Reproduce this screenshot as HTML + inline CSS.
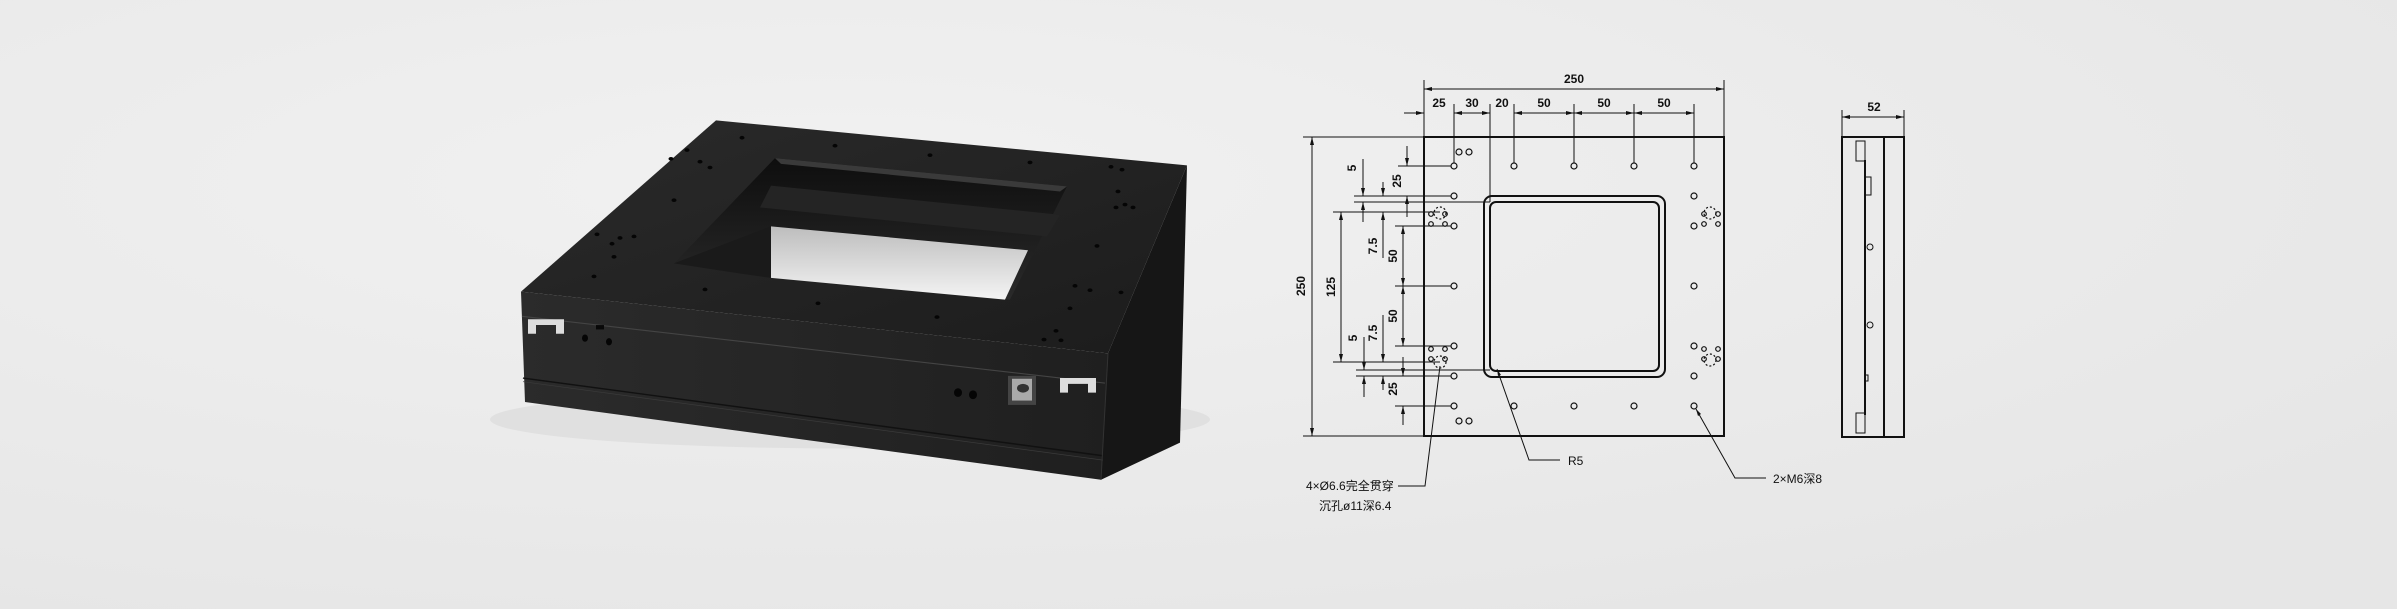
<!DOCTYPE html>
<html><head><meta charset="utf-8"><style>
html,body{margin:0;padding:0;background:#e9e9e9;}
svg{display:block}
text{font-family:"Liberation Sans","Noto Sans CJK SC",sans-serif;fill:#111}
</style></head><body>
<svg width="2397" height="609" viewBox="0 0 2397 609" xmlns="http://www.w3.org/2000/svg">
<defs>
<radialGradient id="bg" cx="0.35" cy="0.3" r="0.8"><stop offset="0" stop-color="#f1f1f1"/><stop offset="1" stop-color="#e6e6e6"/></radialGradient>
<linearGradient id="top" x1="0" y1="0" x2="1" y2="1"><stop offset="0" stop-color="#2a2a2a"/><stop offset="1" stop-color="#1c1c1c"/></linearGradient>
<linearGradient id="front" x1="0" y1="0" x2="1" y2="0"><stop offset="0" stop-color="#2b2b2b"/><stop offset="1" stop-color="#1f1f1f"/></linearGradient>
<linearGradient id="floor" x1="0" y1="0" x2="0" y2="1"><stop offset="0" stop-color="#bdbdbd"/><stop offset="1" stop-color="#f4f4f4"/></linearGradient>
<linearGradient id="well" x1="0" y1="0" x2="0" y2="1"><stop offset="0" stop-color="#0e0e0e"/><stop offset="1" stop-color="#2a2a2a"/></linearGradient>
</defs>
<rect width="2397" height="609" fill="url(#bg)"/>
<g transform="translate(0,100) scale(1,0.726) translate(0,-100)">
<ellipse cx="850" cy="540" rx="360" ry="40" fill="#d8d8d8" opacity="0.6"/>
<polygon points="1187,190 1180,572 1101,623 1108,449" fill="#161616"/>
<polygon points="521,364 1108,449 1101,623 525,516" fill="url(#front)"/>
<polygon points="716,128 1187,190 1108,449 521,364" fill="url(#top)"/>
<line x1="522" y1="398" x2="1105" y2="490" stroke="#444" stroke-width="1.5"/>
<line x1="523" y1="483" x2="1103" y2="590" stroke="#111" stroke-width="2"/>
<line x1="523" y1="488" x2="1103" y2="596" stroke="#3a3a3a" stroke-width="1"/>
<line x1="1108" y1="449" x2="1101" y2="623" stroke="#333" stroke-width="1"/>
<polygon points="775,180 1067,219 1010,375 674,325" fill="url(#well)"/>
<polygon points="771,218 1060,258 1047,288 760,248" fill="#242424"/>
<polygon points="771,274 1028,307 1005,375 771,345" fill="url(#floor)"/>
<polygon points="674,325 771,274 771,345 740,339" fill="#1a1a1a"/>
<polygon points="775,180 1067,219 1060,226 781,188" fill="#3a3a3a"/>
<g fill="#050505">
<circle cx="742" cy="152" r="2.5"/><circle cx="835" cy="163" r="2.5"/><circle cx="930" cy="176" r="2.5"/><circle cx="1030" cy="186" r="2.5"/>
<circle cx="1111" cy="192" r="2.5"/><circle cx="1122" cy="196" r="2.5"/><circle cx="1118" cy="226" r="2.5"/><circle cx="1116" cy="248" r="2.5"/><circle cx="1133" cy="248" r="2.5"/><circle cx="1125" cy="244" r="2.5"/>
<circle cx="1097" cy="301" r="2.5"/><circle cx="1075" cy="356" r="2.5"/><circle cx="1090" cy="362" r="2.5"/><circle cx="1121" cy="365" r="2.5"/><circle cx="1070" cy="387" r="2.5"/><circle cx="1056" cy="418" r="2.5"/><circle cx="1061" cy="431" r="2.5"/><circle cx="1044" cy="430" r="2.5"/>
<circle cx="687" cy="169" r="2.5"/><circle cx="671" cy="181" r="2.5"/><circle cx="700" cy="185" r="2.5"/><circle cx="710" cy="193" r="2.5"/><circle cx="674" cy="238" r="2.5"/>
<circle cx="597" cy="285" r="2.5"/><circle cx="620" cy="290" r="2.5"/><circle cx="612" cy="298" r="2.5"/><circle cx="634" cy="288" r="2.5"/><circle cx="614" cy="316" r="2.5"/><circle cx="594" cy="343" r="2.5"/>
<circle cx="705" cy="361" r="2.5"/><circle cx="818" cy="380" r="2.5"/><circle cx="937" cy="399" r="2.5"/>
<ellipse cx="585" cy="428" rx="3" ry="5"/><ellipse cx="609" cy="433" rx="3" ry="5"/><ellipse cx="958" cy="503" rx="4" ry="6"/><ellipse cx="973" cy="506" rx="4" ry="6"/>
</g>
<path d="M528,402 h36 v20 h-8 v-12 h-20 v12 h-8z" fill="#ddd"/>
<path d="M1060,483 h36 v20 h-8 v-12 h-20 v12 h-8z" fill="#ddd"/>
<rect x="1008" y="480" width="28" height="40" fill="#444"/><rect x="1012" y="484" width="20" height="30" fill="#aaa"/><circle cx="1023" cy="497" r="6" fill="#333"/>
<rect x="596" y="410" width="8" height="6" fill="#080808"/>
</g>

<g stroke="#111" fill="none" stroke-width="1">
<rect x="1424" y="137" width="300" height="299" stroke-width="2"/>
<rect x="1484" y="196" width="181" height="181" rx="8" stroke-width="2"/>
<rect x="1490" y="202" width="169" height="169" rx="6" stroke-width="2"/>
<g stroke-width="1.2">
<circle cx="1454" cy="166" r="3"/><circle cx="1514" cy="166" r="3"/><circle cx="1574" cy="166" r="3"/><circle cx="1634" cy="166" r="3"/><circle cx="1694" cy="166" r="3"/>
<circle cx="1454" cy="406" r="3"/><circle cx="1514" cy="406" r="3"/><circle cx="1574" cy="406" r="3"/><circle cx="1634" cy="406" r="3"/><circle cx="1694" cy="406" r="3"/>
<circle cx="1454" cy="196" r="3"/><circle cx="1454" cy="226" r="3"/><circle cx="1454" cy="286" r="3"/><circle cx="1454" cy="346" r="3"/><circle cx="1454" cy="376" r="3"/>
<circle cx="1694" cy="196" r="3"/><circle cx="1694" cy="226" r="3"/><circle cx="1694" cy="286" r="3"/><circle cx="1694" cy="346" r="3"/><circle cx="1694" cy="376" r="3"/>
<circle cx="1459" cy="152" r="3"/><circle cx="1469" cy="152" r="3"/><circle cx="1459" cy="421" r="3"/><circle cx="1469" cy="421" r="3"/>
<circle cx="1440" cy="213" r="6" stroke-dasharray="2 2"/><circle cx="1431" cy="214" r="2.3"/><circle cx="1445" cy="214" r="2.3"/><circle cx="1431" cy="224" r="2.3"/><circle cx="1445" cy="224" r="2.3"/>
<circle cx="1440" cy="362" r="6" stroke-dasharray="2 2"/><circle cx="1431" cy="359" r="2.3"/><circle cx="1445" cy="359" r="2.3"/><circle cx="1431" cy="349" r="2.3"/><circle cx="1445" cy="349" r="2.3"/>
<circle cx="1710" cy="213" r="6" stroke-dasharray="2 2"/><circle cx="1704" cy="214" r="2.3"/><circle cx="1718" cy="214" r="2.3"/><circle cx="1704" cy="224" r="2.3"/><circle cx="1718" cy="224" r="2.3"/>
<circle cx="1710" cy="360" r="6" stroke-dasharray="2 2"/><circle cx="1704" cy="359" r="2.3"/><circle cx="1718" cy="359" r="2.3"/><circle cx="1704" cy="349" r="2.3"/><circle cx="1718" cy="349" r="2.3"/>
</g>
<line x1="1424" y1="80" x2="1424" y2="137"/><line x1="1724" y1="80" x2="1724" y2="137"/>
<line x1="1424" y1="89" x2="1724" y2="89"/>
<line x1="1404" y1="113" x2="1424" y2="113"/>
<line x1="1454" y1="104" x2="1454" y2="163"/><line x1="1490" y1="104" x2="1490" y2="202"/>
<line x1="1514" y1="104" x2="1514" y2="163"/><line x1="1574" y1="104" x2="1574" y2="163"/><line x1="1634" y1="104" x2="1634" y2="163"/><line x1="1694" y1="104" x2="1694" y2="163"/>
<line x1="1454" y1="113" x2="1490" y2="113"/><line x1="1514" y1="113" x2="1694" y2="113"/>
<line x1="1303" y1="137" x2="1424" y2="137"/><line x1="1303" y1="436" x2="1424" y2="436"/>
<line x1="1312" y1="137" x2="1312" y2="436"/>
<line x1="1333" y1="212" x2="1440" y2="212"/><line x1="1333" y1="362" x2="1440" y2="362"/>
<line x1="1341" y1="212" x2="1341" y2="362"/>
<line x1="1354" y1="196" x2="1451" y2="196"/><line x1="1354" y1="202" x2="1490" y2="202"/>
<line x1="1356" y1="370" x2="1490" y2="370"/><line x1="1356" y1="376" x2="1451" y2="376"/>
<line x1="1398" y1="166" x2="1451" y2="166"/><line x1="1395" y1="226" x2="1451" y2="226"/><line x1="1395" y1="286" x2="1451" y2="286"/><line x1="1395" y1="346" x2="1451" y2="346"/><line x1="1395" y1="406" x2="1451" y2="406"/>
<line x1="1403" y1="226" x2="1403" y2="346"/>
<line x1="1407" y1="146" x2="1407" y2="166"/><line x1="1407" y1="196" x2="1407" y2="217"/>
<line x1="1363" y1="159" x2="1363" y2="196"/><line x1="1363" y1="202" x2="1363" y2="222"/>
<line x1="1383" y1="182" x2="1383" y2="196"/><line x1="1383" y1="212" x2="1383" y2="258"/>
<line x1="1364" y1="337" x2="1364" y2="370"/><line x1="1364" y1="376" x2="1364" y2="397"/>
<line x1="1383" y1="315" x2="1383" y2="362"/><line x1="1383" y1="376" x2="1383" y2="390"/>
<line x1="1403" y1="357" x2="1403" y2="376"/><line x1="1403" y1="406" x2="1403" y2="425"/>
<polyline points="1440,366 1425,486 1398,486"/>
<polyline points="1497,369 1529,460 1560,460"/>
<polyline points="1696,409 1735,478 1766,478"/>
<rect x="1842" y="137" width="62" height="300" stroke-width="2"/>
<line x1="1865" y1="160" x2="1865" y2="415" stroke-width="2"/><line x1="1884" y1="137" x2="1884" y2="437" stroke-width="2"/>
<rect x="1856" y="141" width="9" height="20"/><rect x="1856" y="413" width="9" height="20"/><rect x="1865" y="177" width="6" height="18"/><rect x="1865" y="375" width="3" height="6"/>
<circle cx="1870" cy="247" r="3"/><circle cx="1870" cy="325" r="3"/>
<line x1="1842" y1="110" x2="1842" y2="137"/><line x1="1904" y1="110" x2="1904" y2="137"/><line x1="1842" y1="117" x2="1904" y2="117"/>
</g>
<g fill="#111">
<path d="M1424,89 l8,-2 v4z"/><path d="M1724,89 l-8,-2 v4z"/>
<path d="M1424,113 l-8,-2 v4z"/><path d="M1454,113 l8,-2 v4z"/><path d="M1490,113 l-8,-2 v4z"/>
<path d="M1514,113 l8,-2 v4z"/><path d="M1574,113 l-8,-2 v4z"/><path d="M1574,113 l8,-2 v4z"/><path d="M1634,113 l-8,-2 v4z"/><path d="M1634,113 l8,-2 v4z"/><path d="M1694,113 l-8,-2 v4z"/>
<path d="M1312,137 l-2,8 h4z"/><path d="M1312,436 l-2,-8 h4z"/>
<path d="M1341,212 l-2,8 h4z"/><path d="M1341,362 l-2,-8 h4z"/>
<path d="M1403,226 l-2,8 h4z"/><path d="M1403,286 l-2,-8 h4z"/><path d="M1403,286 l-2,8 h4z"/><path d="M1403,346 l-2,-8 h4z"/>
<path d="M1407,166 l-2,-8 h4z"/><path d="M1407,196 l-2,8 h4z"/>
<path d="M1363,196 l-2,-8 h4z"/><path d="M1363,202 l-2,8 h4z"/>
<path d="M1383,196 l-2,-8 h4z"/><path d="M1383,212 l-2,8 h4z"/>
<path d="M1364,370 l-2,-8 h4z"/><path d="M1364,376 l-2,8 h4z"/>
<path d="M1383,362 l-2,-8 h4z"/><path d="M1383,376 l-2,8 h4z"/>
<path d="M1403,376 l-2,-8 h4z"/><path d="M1403,406 l-2,8 h4z"/>
<path d="M1842,117 l8,-2 v4z"/><path d="M1904,117 l-8,-2 v4z"/>
<path d="M1497,369 l1,7 l3,-1z"/><path d="M1696,409 l2,7 l3,-2z"/>
</g>
<g font-size="12" text-anchor="middle" font-weight="bold">
<text x="1574" y="83">250</text>
<text x="1439" y="107">25</text><text x="1472" y="107">30</text><text x="1502" y="107">20</text>
<text x="1544" y="107">50</text><text x="1604" y="107">50</text><text x="1664" y="107">50</text>
<text x="1874" y="111">52</text>
<text transform="translate(1305,286) rotate(-90)">250</text>
<text transform="translate(1335,287) rotate(-90)">125</text>
<text transform="translate(1356,168) rotate(-90)">5</text>
<text transform="translate(1401,181) rotate(-90)">25</text>
<text transform="translate(1377,246) rotate(-90)">7.5</text>
<text transform="translate(1397,256) rotate(-90)">50</text>
<text transform="translate(1397,316) rotate(-90)">50</text>
<text transform="translate(1377,333) rotate(-90)">7.5</text>
<text transform="translate(1357,338) rotate(-90)">5</text>
<text transform="translate(1397,389) rotate(-90)">25</text>
</g>
<g font-size="12">
<text x="1568" y="465">R5</text>
<text x="1773" y="483">2×M6深8</text>
<text x="1306" y="490">4×Ø6.6完全贯穿</text>
<text x="1319" y="510">沉孔ø11深6.4</text>
</g>
</svg>
</body></html>
